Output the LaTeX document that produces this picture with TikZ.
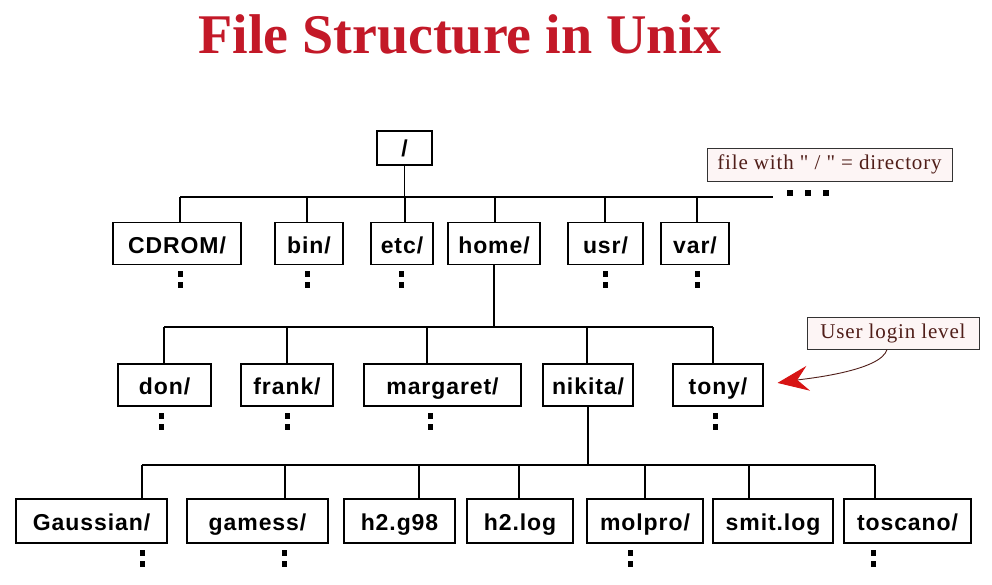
\documentclass[tikz,border=0pt]{standalone}
\usepackage{fontspec}
\setmainfont{Liberation Serif}
\newfontfamily\boxfont[LetterSpace=4]{Liberation Sans}
\newfontfamily\notefont[LetterSpace=4]{Liberation Serif}
\usetikzlibrary{arrows.meta, positioning, calc}

\definecolor{titlered}{RGB}{195,25,40}
\definecolor{notetext}{RGB}{80,30,25}
\definecolor{notefill}{RGB}{253,245,245}
\definecolor{arrowred}{RGB}{215,20,20}

% two small squares under a box: "more below"
\newcommand{\moredots}[1]{%
  \fill ($(#1)+(-2.5,6)$) rectangle ++(5,6);
  \fill ($(#1)+(-2.5,17)$) rectangle ++(5,6);}

\begin{document}
\begin{tikzpicture}[x=1pt, y=-1pt,
  dirbox/.style={draw, line width=1.3pt, font=\boxfont\bfseries\fontsize{23}{23}\selectfont, minimum height=42pt, inner sep=0pt, text height=19pt, text depth=0pt},
  notebox/.style={draw=black!80, line width=0.9pt, fill=notefill, text=notetext, font=\notefont\fontsize{21}{21}\selectfont, minimum height=33pt, inner sep=0pt},
  link/.style={line width=1.3pt}]
\fill[white] (0,0) rectangle (992,584);
\useasboundingbox (0,0) rectangle (992,584);

% Title
\node[anchor=base, font=\bfseries\fontsize{56}{56}\selectfont, text=titlered] (title) at (460,53) {File Structure in Unix};

% Root
\node[dirbox, minimum width=55pt, minimum height=34pt, text height=17pt] (root) at (404.5,148) {/};

% Level 1: system directories
\node[dirbox, minimum width=128pt] (cdrom) at (177,243.5) {CDROM/};
\node[dirbox, minimum width=68pt] (bin) at (309,243.5) {bin/};
\node[dirbox, minimum width=62pt] (etc) at (402,243.5) {etc/};
\node[dirbox, minimum width=92pt] (home) at (494,243.5) {home/};
\node[dirbox, minimum width=75pt] (usr) at (605.5,243.5) {usr/};
\node[dirbox, minimum width=68pt] (var) at (695,243.5) {var/};

% Level 2: users
\node[dirbox, minimum width=93pt] (don) at (164.5,385) {don/};
\node[dirbox, minimum width=92pt] (frank) at (287,385) {frank/};
\node[dirbox, minimum width=157pt] (margaret) at (442.5,385) {margaret/};
\node[dirbox, minimum width=90pt] (nikita) at (588,385) {nikita/};
\node[dirbox, minimum width=90pt] (tony) at (718,385) {tony/};

% Level 3: files of nikita
\node[dirbox, minimum width=151pt, minimum height=44pt] (gauss) at (91.5,521) {Gaussian/};
\node[dirbox, minimum width=141pt, minimum height=44pt] (gamess) at (257.5,521) {gamess/};
\node[dirbox, minimum width=111pt, minimum height=44pt] (h2g98) at (399.5,521) {h2.g98};
\node[dirbox, minimum width=106pt, minimum height=44pt] (h2log) at (520,521) {h2.log};
\node[dirbox, minimum width=116pt, minimum height=44pt] (molpro) at (645,521) {molpro/};
\node[dirbox, minimum width=120pt, minimum height=44pt] (smit) at (773,521) {smit.log};
\node[dirbox, minimum width=127pt, minimum height=44pt] (toscano) at (907.5,521) {toscano/};

% Tree lines, level 1
\foreach \n/\x in {cdrom/180, bin/307, etc/405, home/495, usr/605, var/697} {
  \coordinate (t\n) at (\x,197);
  \draw[link] (t\n) -- (t\n |- \n.north);
}
\coordinate (bus1end) at (773,197);
\draw[link] (root.south) -- (root.south |- tetc);
\draw[link] (tcdrom) -- (bus1end);
\foreach \d in {17,35,53}
  \fill ($(bus1end)+(\d-3,-7)$) rectangle ++(6,6);

% Tree lines, level 2
\foreach \n/\x in {don/164, frank/287, margaret/427, nikita/587, tony/713} {
  \coordinate (t\n) at (\x,327);
  \draw[link] (t\n) -- (t\n |- \n.north);
}
\draw[link] (home.south) -- (home.south |- tdon);
\draw[link] (tdon) -- (ttony);

% Tree lines, level 3
\foreach \n/\x in {gauss/142, gamess/285, h2g98/419, h2log/519, molpro/645, smit/749, toscano/875} {
  \coordinate (t\n) at (\x,465);
  \draw[link] (t\n) -- (t\n |- \n.north);
}
\draw[link] (nikita.south) -- (nikita.south |- tgauss);
\draw[link] (tgauss) -- (ttoscano);

% More entries below
\foreach \n/\x in {cdrom/180, bin/307, etc/401, usr/605, var/697,
                   don/161, frank/287, margaret/430, tony/715,
                   gauss/142, gamess/284, molpro/630, toscano/873}
  \moredots{\x,0 |- \n.south};

% Notes
\node[notebox, minimum width=245pt] (dirnote) at (829.5,164.5) {file with " / " = directory};
\node[notebox, minimum width=172pt, minimum height=32pt] (login) at (893,333) {User login level};
\draw[line width=0.9pt, draw=notetext, shorten >=14pt,
  -{Stealth[length=31pt, width=25pt, inset=11pt, arrowred]}]
  ($(login.south)+(-6,0)$) .. controls +(-6,22) and +(40,-6) .. (tony.east);
\end{tikzpicture}
\end{document}
